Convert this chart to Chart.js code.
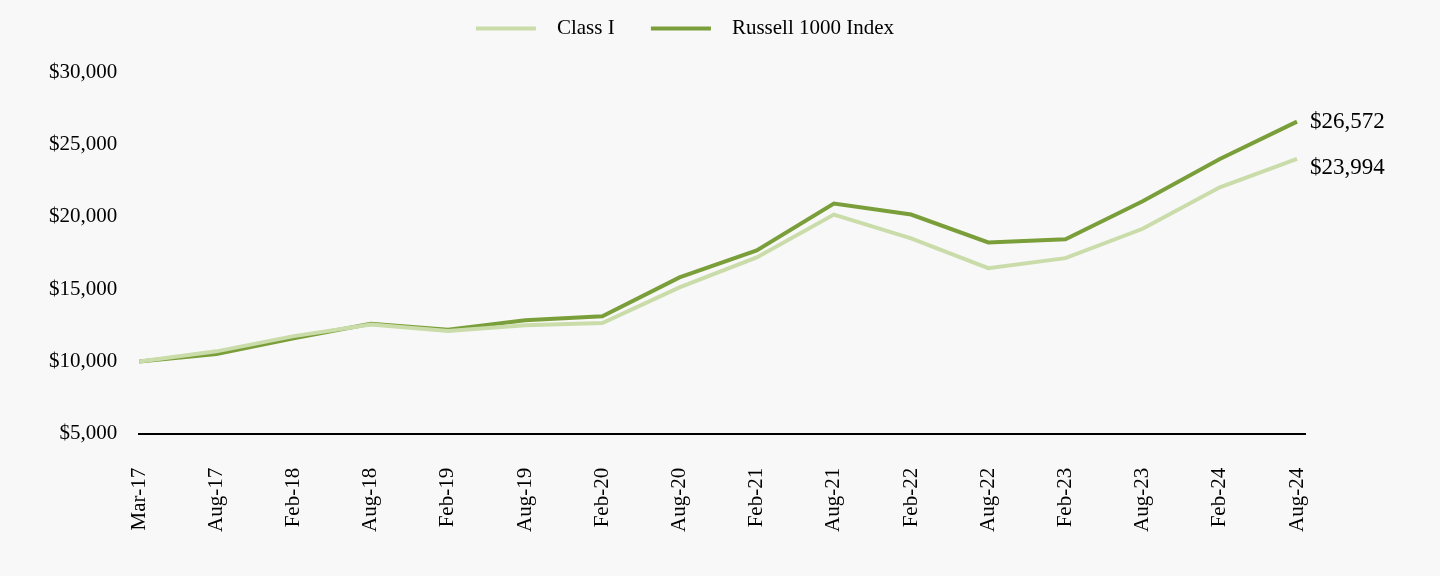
<!DOCTYPE html>
<html>
<head>
<meta charset="utf-8">
<script src="https://cdn.jsdelivr.net/npm/chart.js@4.4.1/dist/chart.umd.min.js"></script>
<style>
  html, body { margin: 0; padding: 0; background: #f8f8f8; }
  #wrap { width: 1440px; height: 576px; }
</style>
</head>
<body>
<div id="wrap"><canvas id="myChart" width="1440" height="576"></canvas></div>
<script>
const labels = ['Mar-17', 'Aug-17', 'Feb-18', 'Aug-18', 'Feb-19', 'Aug-19', 'Feb-20', 'Aug-20',
                'Feb-21', 'Aug-21', 'Feb-22', 'Aug-22', 'Feb-23', 'Aug-23', 'Feb-24', 'Aug-24'];

const classI = [10000, 10700, 11750, 12550, 12100, 12500, 12650, 15120,
                17190, 20150, 18500, 16450, 17140, 19170, 22030, 23994];

const russell1000 = [10000, 10510, 11610, 12600, 12200, 12850, 13130, 15810,
                     17670, 20910, 20150, 18220, 18450, 21070, 23990, 26572];

const yTicks = [5000, 10000, 15000, 20000, 25000, 30000];

const colors = {
    classI: '#cbdcab',
    russell: '#7a9f3a',
    text: '#000000',
    background: '#f8f8f8'
};

const fontFamily = '"Liberation Serif", "Times New Roman", serif';

function money(v) {
    return '$' + v.toLocaleString('en-US');
}

// end-of-line value labels, plus the axis line running a little past the last point
const endLabels = {
    id: 'endLabels',
    afterDatasetsDraw(chart) {
        const ctx = chart.ctx;
        const area = chart.chartArea;
        const shifts = [9, 0];
        ctx.save();
        ctx.strokeStyle = '#000000';
        ctx.lineWidth = 2;
        ctx.beginPath();
        ctx.moveTo(area.right - 2, Math.round(area.bottom));
        ctx.lineTo(area.right + 9, Math.round(area.bottom));
        ctx.stroke();

        ctx.font = '23px ' + fontFamily;
        ctx.fillStyle = colors.text;
        ctx.textAlign = 'left';
        ctx.textBaseline = 'middle';
        chart.data.datasets.forEach((ds, i) => {
            const meta = chart.getDatasetMeta(i);
            const pt = meta.data[meta.data.length - 1];
            const v = ds.data[ds.data.length - 1];
            ctx.fillText(money(v), pt.x + 13, pt.y + shifts[i]);
        });
        ctx.restore();
    }
};

// extra room under the legend, and nudge it right a bit
const legendGap = {
    id: 'legendGap',
    beforeInit(chart) {
        const fit = chart.legend.fit;
        chart.legend.fit = function () {
            fit.bind(chart.legend)();
            this.height += 23;
        };
    },
    afterLayout(chart) {
        chart.legend.left += 23;
        chart.legend.right += 23;
    }
};

const ctx = document.getElementById('myChart').getContext('2d');
new Chart(ctx, {
    type: 'line',
    data: {
        labels: labels,
        datasets: [
            {
                label: 'Class I',
                data: classI,
                borderColor: colors.classI,
                backgroundColor: colors.classI,
                borderWidth: 4,
                pointRadius: 0,
                tension: 0,
                fill: false
            },
            {
                label: 'Russell 1000 Index',
                data: russell1000,
                borderColor: colors.russell,
                backgroundColor: colors.russell,
                borderWidth: 4,
                pointRadius: 0,
                tension: 0,
                fill: false
            }
        ]
    },
    options: {
        responsive: false,
        animation: false,
        layout: {
            padding: { left: 27, right: 143, top: 8, bottom: 10 }
        },
        plugins: {
            legend: {
                position: 'top',
                labels: {
                    color: colors.text,
                    font: { family: fontFamily, size: 21 },
                    boxWidth: 60,
                    boxHeight: 4,
                    padding: 10,
                    generateLabels(chart) {
                        return chart.data.datasets.map((ds, i) => ({
                            text: '  ' + ds.label + (i === 0 ? '     ' : ''),
                            fillStyle: ds.borderColor,
                            strokeStyle: ds.borderColor,
                            lineWidth: 0,
                            fontColor: colors.text,
                            datasetIndex: i
                        }));
                    }
                }
            },
            tooltip: { enabled: false }
        },
        scales: {
            x: {
                offset: false,
                grid: { display: false, drawTicks: false },
                border: { display: true, color: '#000000', width: 2 },
                ticks: {
                    color: colors.text,
                    font: { family: fontFamily, size: 21 },
                    maxRotation: 90,
                    minRotation: 90,
                    autoSkip: false,
                    padding: 34
                }
            },
            y: {
                min: 5000,
                max: 30000,
                afterBuildTicks(axis) {
                    axis.ticks = yTicks.map(v => ({ value: v }));
                },
                grid: { display: false, drawTicks: false },
                border: { display: false },
                ticks: {
                    color: colors.text,
                    font: { family: fontFamily, size: 21 },
                    padding: 22,
                    callback: v => money(v)
                }
            }
        }
    },
    plugins: [endLabels, legendGap]
});
</script>
</body>
</html>
